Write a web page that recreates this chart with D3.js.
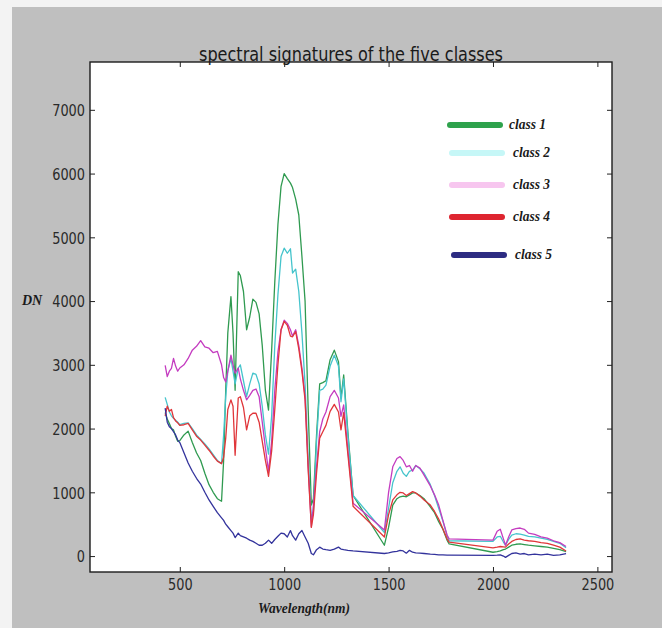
<!DOCTYPE html>
<html>
<head>
<meta charset="utf-8">
<script src="https://cdn.jsdelivr.net/npm/d3@7"></script>
<style>
  body { margin: 0; background: #bfbfbf; }
  svg { display: block; }
</style>
</head>
<body>
<div id="chart"></div>
<script>
// wavelengths (nm) of the sampled bands, water bands skipped
var wavelength = [430, 440, 450, 460, 470, 480, 490, 500, 520, 540, 560, 580, 600, 620, 640, 660, 680, 700, 710, 720,
  730, 745, 755, 765, 780, 790, 805, 820, 835, 850, 865, 880, 895, 910, 925, 940, 955, 970, 985, 1000,
  1015, 1030, 1040, 1055, 1070, 1085, 1100, 1115, 1130, 1140, 1155, 1170, 1185, 1200, 1220, 1240, 1260, 1272, 1285, 1305,
  1330, 1480, 1500, 1520, 1540, 1555, 1570, 1585, 1600, 1615, 1630, 1650, 1670, 1700, 1720, 1740, 1760, 1780, 1790, 2000,
  2020, 2035, 2050, 2060, 2075, 2090, 2110, 2130, 2150, 2170, 2200, 2230, 2260, 2290, 2320, 2350];

var class1 = [2250, 2150, 2080, 2000, 1980, 1880, 1800, 1810, 1900, 1960, 1780, 1620, 1500, 1300, 1120, 1000, 900, 860, 1500, 2600,
  3500, 4070, 3500, 2600, 4460, 4400, 4150, 3550, 3750, 4030, 3980, 3800, 3300, 2600, 2290, 3230, 4300, 5200, 5800, 6000,
  5920, 5850, 5780, 5600, 5350, 4700, 4000, 2300, 800, 900, 1900, 2700, 2720, 2750, 3080, 3230, 3050, 2480, 2840, 1950,
  950, 170, 450, 800, 900, 930, 940, 930, 960, 990, 990, 950, 900, 770, 680, 540, 420, 250, 190, 60,
  70, 80, 100, 110, 140, 170, 185, 190, 180, 170, 160, 150, 140, 120, 100, 70];

var class2 = [2490, 2380, 2260, 2200, 2160, 2130, 2100, 2060, 2080, 2090, 2000, 1900, 1830, 1760, 1680, 1590, 1500, 1450, 1900, 2500,
  2900, 3100, 2900, 2700, 2950, 3000, 2750, 2500, 2700, 2870, 2850, 2700, 2350, 1900, 1600, 2200, 3300, 4100, 4700, 4830,
  4750, 4820, 4440, 4500, 4150, 3500, 2700, 1500, 600, 700, 1800, 2600, 2620, 2680, 2980, 3150, 2980, 2420, 2780, 1900,
  950, 370, 750, 1150, 1330, 1400, 1300, 1250, 1330, 1350, 1420, 1370, 1300, 1120, 950, 750, 550, 320, 240, 230,
  300, 310, 220, 170, 260, 330, 350, 345, 330, 310, 300, 280, 260, 230, 200, 130];

var class3 = [2990, 2815, 2900, 2945, 3100, 2980, 2900, 2950, 3000, 3100, 3230, 3290, 3380, 3280, 3260, 3190, 3210, 3000, 2800, 2730,
  2900, 3150, 3000, 2870, 2950, 2780, 2600, 2450, 2520, 2600, 2620, 2500, 2100, 1700, 1330, 1800, 2600, 3200, 3550, 3700,
  3650, 3550, 3450, 3550, 3300, 2950, 2500, 1400, 460, 800, 1400, 1950, 2150, 2260, 2500, 2600, 2480, 2190, 2370, 1660,
  830, 410, 1000, 1400, 1530, 1560, 1500, 1400, 1420, 1330, 1420, 1380, 1270, 1100, 960, 800, 560, 330, 270, 250,
  390, 420, 270, 170, 300, 410, 430, 440, 420, 360, 340, 300, 280, 240, 210, 150];

var class4 = [2200, 2350, 2270, 2300, 2170, 2120, 2090, 2050, 2060, 2080, 1980, 1880, 1820, 1740, 1660, 1570, 1490, 1450, 1550, 1850,
  2300, 2450, 2350, 1580, 2480, 2500, 2330, 1980, 2200, 2240, 2240, 2100, 1800, 1500, 1250, 1650, 2300, 3000, 3550, 3680,
  3620, 3450, 3440, 3520, 3250, 2900, 2450, 1350, 450, 650, 1300, 1850, 1950, 2050, 2270, 2380, 2260, 1980, 2250, 1600,
  780, 300, 650, 880, 960, 1000, 990, 950, 980, 1010, 990, 940, 880, 800, 700, 580, 430, 270, 220, 130,
  140, 150, 145, 140, 190, 230, 260, 270, 250, 240, 230, 210, 200, 170, 140, 80];

var class5 = [2320, 2100, 2030, 2000, 1950, 1900, 1820, 1780, 1620, 1460, 1330, 1220, 1130, 1000, 880, 780, 680, 600, 560, 500,
  460, 400, 360, 290, 360, 320, 300, 280, 250, 230, 200, 170, 170, 200, 250, 200, 260, 310, 360, 350,
  300, 400, 320, 250, 350, 400, 300, 200, 40, 20, 100, 140, 110, 100, 90, 110, 140, 110, 100, 90,
  80, 40, 50, 65, 75, 90, 80, 45, 90, 60, 50, 45, 40, 30, 25, 20, 20, 15, 15, 10,
  15, 20, 0, -20, 10, 40, 50, 30, 40, 20, 30, 20, 30, 10, 20, 40];

var classNames = ["class 1", "class 2", "class 3", "class 4", "class 5"];
var xTicks = [500, 1000, 1500, 2000, 2500];
var yTicks = [0, 1000, 2000, 3000, 4000, 5000, 6000, 7000];

var lineColors = ["#2f9a50", "#45c4cc", "#c43cc0", "#e0363a", "#33339c"];
var legendColors = ["#2ea24c", "#c6f7f7", "#f7c6ef", "#de2530", "#2d2c82"];

var width = 662, height = 628;
var plotL = 90, plotR = 612, plotT = 62, plotB = 572;

var svg = d3.select("#chart").append("svg")
    .attr("width", width)
    .attr("height", height);

// light strip along top and left edge of the screenshot
svg.append("rect").attr("x", 0).attr("y", 0).attr("width", width).attr("height", 7).attr("fill", "#f3f3f3");
svg.append("rect").attr("x", 0).attr("y", 0).attr("width", 12).attr("height", height).attr("fill", "#f3f3f3");

var x = d3.scaleLinear().domain([70, 2570]).range([plotL, plotR]);
var y = d3.scaleLinear().domain([-250, 7750]).range([plotB, plotT]);

svg.append("rect")
    .attr("x", plotL).attr("y", plotT)
    .attr("width", plotR - plotL).attr("height", plotB - plotT)
    .attr("fill", "#fff");

var series = [class1, class2, class3, class4, class5];

var line = d3.line()
    .x(function(d) { return x(d[0]); })
    .y(function(d) { return y(d[1]); });

svg.append("g")
  .selectAll("path")
  .data(series)
  .enter().append("path")
    .attr("fill", "none")
    .attr("stroke", function(d, i) { return lineColors[i]; })
    .attr("stroke-width", 1.3)
    .attr("stroke-linejoin", "round")
    .attr("d", function(d) { return line(wavelength.map(function(w, j) { return [w, d[j]]; })); });

// axes, ticks pointing inwards like old matplotlib
function styleAxis(g) {
  g.select(".domain").remove();
  g.selectAll(".tick line").attr("stroke", "#222");
  g.selectAll(".tick text")
    .attr("fill", "#2a2a2a")
    .attr("font-family", "DejaVu Sans")
    .attr("font-size", 16)
    .attr("textLength", function() { return this.textContent.length * 8.2; })
    .attr("lengthAdjust", "spacingAndGlyphs");
}

svg.append("g")
    .attr("transform", "translate(0," + plotB + ")")
    .call(d3.axisBottom(x).tickValues(xTicks).tickSizeInner(-5).tickSizeOuter(0).tickFormat(d3.format("d")))
    .call(styleAxis)
    .selectAll(".tick text").attr("y", 18).attr("dy", 0);

svg.append("g")
    .attr("transform", "translate(0," + plotT + ")")
    .call(d3.axisTop(x).tickValues(xTicks).tickSizeInner(-5).tickSizeOuter(0).tickFormat(""))
    .call(styleAxis);

svg.append("g")
    .attr("transform", "translate(" + plotL + ",0)")
    .call(d3.axisLeft(y).tickValues(yTicks).tickSizeInner(-5).tickSizeOuter(0).tickPadding(5).tickFormat(d3.format("d")))
    .call(styleAxis)
    .selectAll(".tick text").attr("dy", "0.36em");

svg.append("g")
    .attr("transform", "translate(" + plotR + ",0)")
    .call(d3.axisRight(y).tickValues(yTicks).tickSizeInner(-5).tickSizeOuter(0).tickFormat(""))
    .call(styleAxis);

svg.append("rect")
    .attr("x", plotL).attr("y", plotT)
    .attr("width", plotR - plotL).attr("height", plotB - plotT)
    .attr("fill", "none")
    .attr("stroke", "#1c1c1c")
    .attr("stroke-width", 1.4);

svg.append("text")
    .attr("x", (plotL + plotR) / 2)
    .attr("y", 61)
    .attr("text-anchor", "middle")
    .attr("font-family", "DejaVu Sans")
    .attr("font-size", 20)
    .attr("fill", "#1a1a1a")
    .attr("textLength", 304)
    .attr("lengthAdjust", "spacingAndGlyphs")
    .text("spectral signatures of the five classes");

svg.append("text")
    .attr("x", 22)
    .attr("y", 305)
    .attr("font-family", "Liberation Serif")
    .attr("font-style", "italic")
    .attr("font-weight", "bold")
    .attr("font-size", 14)
    .attr("fill", "#1a1a1a")
    .text("DN");

svg.append("text")
    .attr("x", 304)
    .attr("y", 613)
    .attr("text-anchor", "middle")
    .attr("font-family", "Liberation Serif")
    .attr("font-style", "italic")
    .attr("font-weight", "bold")
    .attr("font-size", 14)
    .attr("fill", "#1a1a1a")
    .attr("textLength", 92)
    .attr("lengthAdjust", "spacingAndGlyphs")
    .text("Wavelength(nm)");

// legend
var legendY = [125, 153, 185, 217, 255];
var legendX = [450, 452, 452, 452, 454];

var legend = svg.append("g")
  .selectAll("g")
  .data(classNames)
  .enter().append("g")
    .attr("transform", function(d, i) { return "translate(" + legendX[i] + "," + legendY[i] + ")"; });

legend.append("line")
    .attr("x1", 0).attr("x2", 50)
    .attr("stroke", function(d, i) { return legendColors[i]; })
    .attr("stroke-width", 6)
    .attr("stroke-linecap", "round");

legend.append("text")
    .attr("x", function(d, i) { return i === 0 ? 59 : 61; })
    .attr("y", 4)
    .attr("font-family", "Liberation Serif")
    .attr("font-style", "italic")
    .attr("font-weight", "bold")
    .attr("font-size", 15)
    .attr("fill", "#1a1a1a")
    .attr("textLength", 37)
    .attr("lengthAdjust", "spacingAndGlyphs")
    .text(function(d) { return d; });
</script>
</body>
</html>
